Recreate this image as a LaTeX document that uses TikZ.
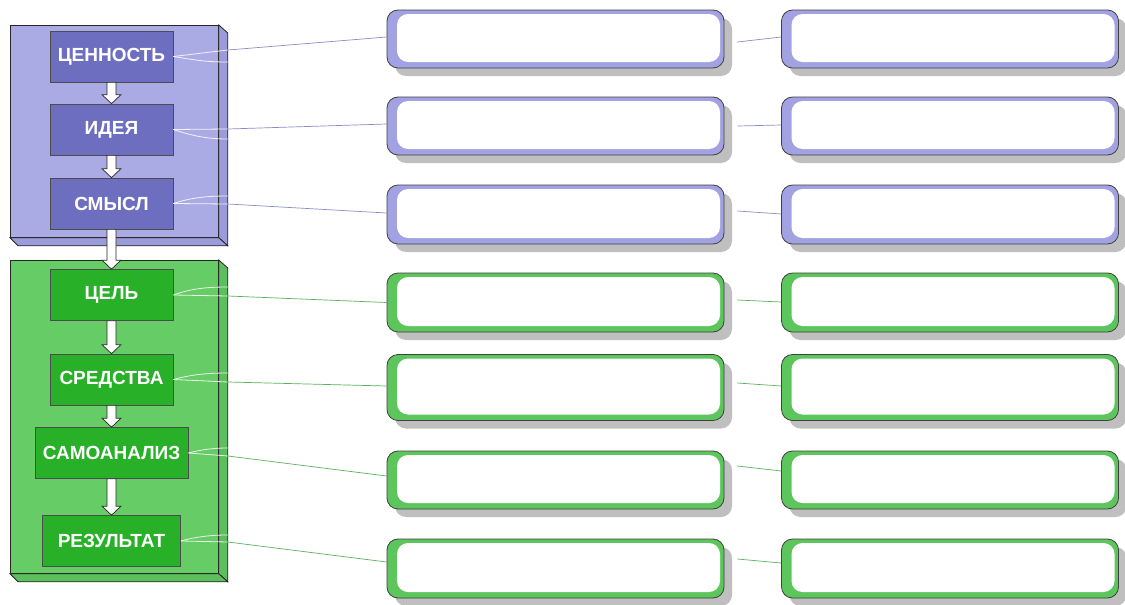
\documentclass[tikz,border=0pt]{standalone}
\usepackage{fontspec}
\setmainfont{Liberation Sans}
\usetikzlibrary{shadows,calc}
\definecolor{panP}{RGB}{170,170,228}
\definecolor{sideP}{RGB}{155,155,218}
\definecolor{boxP}{RGB}{110,110,192}
\definecolor{bordP}{RGB}{162,162,226}
\definecolor{lineP}{RGB}{140,140,198}
\definecolor{panG}{RGB}{102,204,102}
\definecolor{sideG}{RGB}{92,190,92}
\definecolor{boxG}{RGB}{40,176,40}
\definecolor{bordG}{RGB}{92,198,92}
\definecolor{lineG}{RGB}{90,178,90}
\tikzset{
  panel/.style={draw=black!85, line width=0.8pt, fill=#1, anchor=north west, inner sep=0pt, minimum width=208pt},
  side/.style={draw=black!85, line width=0.8pt, fill=#1},
  stepbox/.style={draw=black!70, line width=0.7pt, fill=#1, text=white,
    font=\bfseries\fontsize{19}{20}\selectfont, minimum width=123pt, minimum height=51pt, inner sep=0pt},
  barrowst/.style={draw=black!85, line width=0.7pt, fill=white},
  rbox/.style={draw=black!75, line width=0.8pt, fill=#1, rounded corners=11pt, inner sep=0pt,
    minimum width=337pt,
    drop shadow={shadow xshift=8pt, shadow yshift=-8pt, fill=black!45, opacity=0.55},
    path picture={\fill[white] ([shift={(10pt,-4pt)}]path picture bounding box.north west)
       rectangle ([shift={(-4pt,6pt)}]path picture bounding box.south east);}},
  forkst/.style={draw=white, line width=0.8pt, opacity=0.85},
  lnP/.style={draw=lineP, line width=0.7pt},
  lnG/.style={draw=lineG, line width=0.7pt}
}
\newcommand\barrow[2]{\draw[barrowst] ($(#1.south)+(-4.5,0)$) -- ($(#2.north)+(-4.5,-9)$) -- ($(#2.north)+(-9.5,-9)$) -- (#2.north) -- ($(#2.north)+(9.5,-9)$) -- ($(#2.north)+(4.5,-9)$) -- ($(#1.south)+(4.5,0)$) -- cycle;}
\begin{document}
\begin{tikzpicture}[x=1pt,y=-1pt]
\useasboundingbox[fill=white] (0,0) rectangle (1125,605);
% panels
\node[panel=panP, minimum height=212pt] (PP) at (10,25) {};
\draw[side=sideP] (PP.north east) -- ($(PP.north east)+(9,8)$) -- ($(PP.south east)+(9,8)$) -- (PP.south east) -- cycle;
\draw[side=sideP] (PP.south west) -- (PP.south east) -- ($(PP.south east)+(9,8)$) -- ($(PP.south west)+(8,8)$) -- cycle;
\node[panel=panG, minimum height=313pt] (PG) at (10,260) {};
\draw[side=sideG] (PG.north east) -- ($(PG.north east)+(9,8)$) -- ($(PG.south east)+(9,8)$) -- (PG.south east) -- cycle;
\draw[side=sideG] (PG.south west) -- (PG.south east) -- ($(PG.south east)+(9,8)$) -- ($(PG.south west)+(8,8)$) -- cycle;
% step boxes
\node[stepbox=boxP] (n1) at (111.5,56.5) {ЦЕННОСТЬ};
\node[stepbox=boxP] (n2) at (111.5,129.5) {ИДЕЯ};
\node[stepbox=boxP] (n3) at (111.5,203.5) {СМЫСЛ};
\node[stepbox=boxG] (n4) at (111.5,295) {ЦЕЛЬ};
\node[stepbox=boxG] (n5) at (111.5,379.5) {СРЕДСТВА};
\node[stepbox=boxG, minimum width=153pt] (n6) at (111.5,453) {САМОАНАЛИЗ};
\node[stepbox=boxG, minimum width=138pt] (n7) at (111.5,541) {РЕЗУЛЬТАТ};
% block arrows
\barrow{n1}{n2}
\barrow{n2}{n3}
\barrow{n3}{n4}
\barrow{n4}{n5}
\barrow{n5}{n6}
\barrow{n6}{n7}
% right boxes
\foreach \i/\y/\h/\c in {1/39/58/bordP, 2/126/58/bordP, 3/214.5/59/bordP, 4/302.5/59/bordG, 5/387.5/66/bordG, 6/480/58/bordG, 7/568.5/59/bordG}{
  \node[rbox=\c, minimum height=\h pt] (a\i) at (555.5,\y) {};
  \node[rbox=\c, minimum height=\h pt] (b\i) at (950,\y) {};
}
% fork coordinates at panel edge
\coordinate (u1) at (228,50);  \coordinate (d1) at (228,62);
\coordinate (u2) at (228,129); \coordinate (d2) at (228,139);
\coordinate (u3) at (228,196); \coordinate (d3) at (228,204);
\coordinate (u4) at (228,287); \coordinate (d4) at (228,296);
\coordinate (u5) at (228,373); \coordinate (d5) at (228,382);
\coordinate (u6) at (228,448); \coordinate (d6) at (228,456);
\coordinate (u7) at (228,535); \coordinate (d7) at (228,542);
% row 1
\draw[forkst] (n1.east) -- (u1);
\draw[forkst] (n1.east) .. controls (195,60) and (205,62) .. (d1);
\draw[lnP] (u1) -- ($(a1.west)+(0,-2)$);
\draw[lnP] ($(a1.east)+(13,3)$) -- ($(b1.west)+(0,-2)$);
% row 2
\draw[forkst] (n2.east) -- (u2);
\draw[forkst] (n2.east) .. controls (190,135) and (205,139) .. (d2);
\draw[lnP] (u2) -- ($(a2.west)+(0,-2)$);
\draw[lnP] ($(a2.east)+(13,0)$) -- ($(b2.west)+(0,-1)$);
% row 3
\draw[forkst] (n3.east) .. controls (190,198) and (205,196) .. (u3);
\draw[forkst] (n3.east) -- (d3);
\draw[lnP] (d3) -- ($(a3.west)+(0,-1.5)$);
\draw[lnP] ($(a3.east)+(13,-3.5)$) -- ($(b3.west)+(0,-0.5)$);
% row 4
\draw[forkst] (n4.east) .. controls (190,289) and (205,287) .. (u4);
\draw[forkst] (n4.east) -- (d4);
\draw[lnG] (d4) -- (a4.west);
\draw[lnG] ($(a4.east)+(13,-2.5)$) -- ($(b4.west)+(0,-0.5)$);
% row 5
\draw[forkst] (n5.east) .. controls (190,375) and (205,373) .. (u5);
\draw[forkst] (n5.east) -- (d5);
\draw[lnG] (d5) -- ($(a5.west)+(0,-1.5)$);
\draw[lnG] ($(a5.east)+(13,-4.5)$) -- ($(b5.west)+(0,-1.5)$);
% row 6
\draw[forkst] (n6.east) .. controls (200,450) and (212,448) .. (u6);
\draw[forkst] (n6.east) -- (d6);
\draw[lnG] (d6) -- ($(a6.west)+(0,-4)$);
\draw[lnG] ($(a6.east)+(13,-14)$) -- ($(b6.west)+(0,-9)$);
% row 7
\draw[forkst] (n7.east) .. controls (195,537) and (210,535) .. (u7);
\draw[forkst] (n7.east) -- (d7);
\draw[lnG] (d7) -- ($(a7.west)+(0,-6.5)$);
\draw[lnG] ($(a7.east)+(13,-9.5)$) -- ($(b7.west)+(0,-5.5)$);
\end{tikzpicture}
\end{document}
